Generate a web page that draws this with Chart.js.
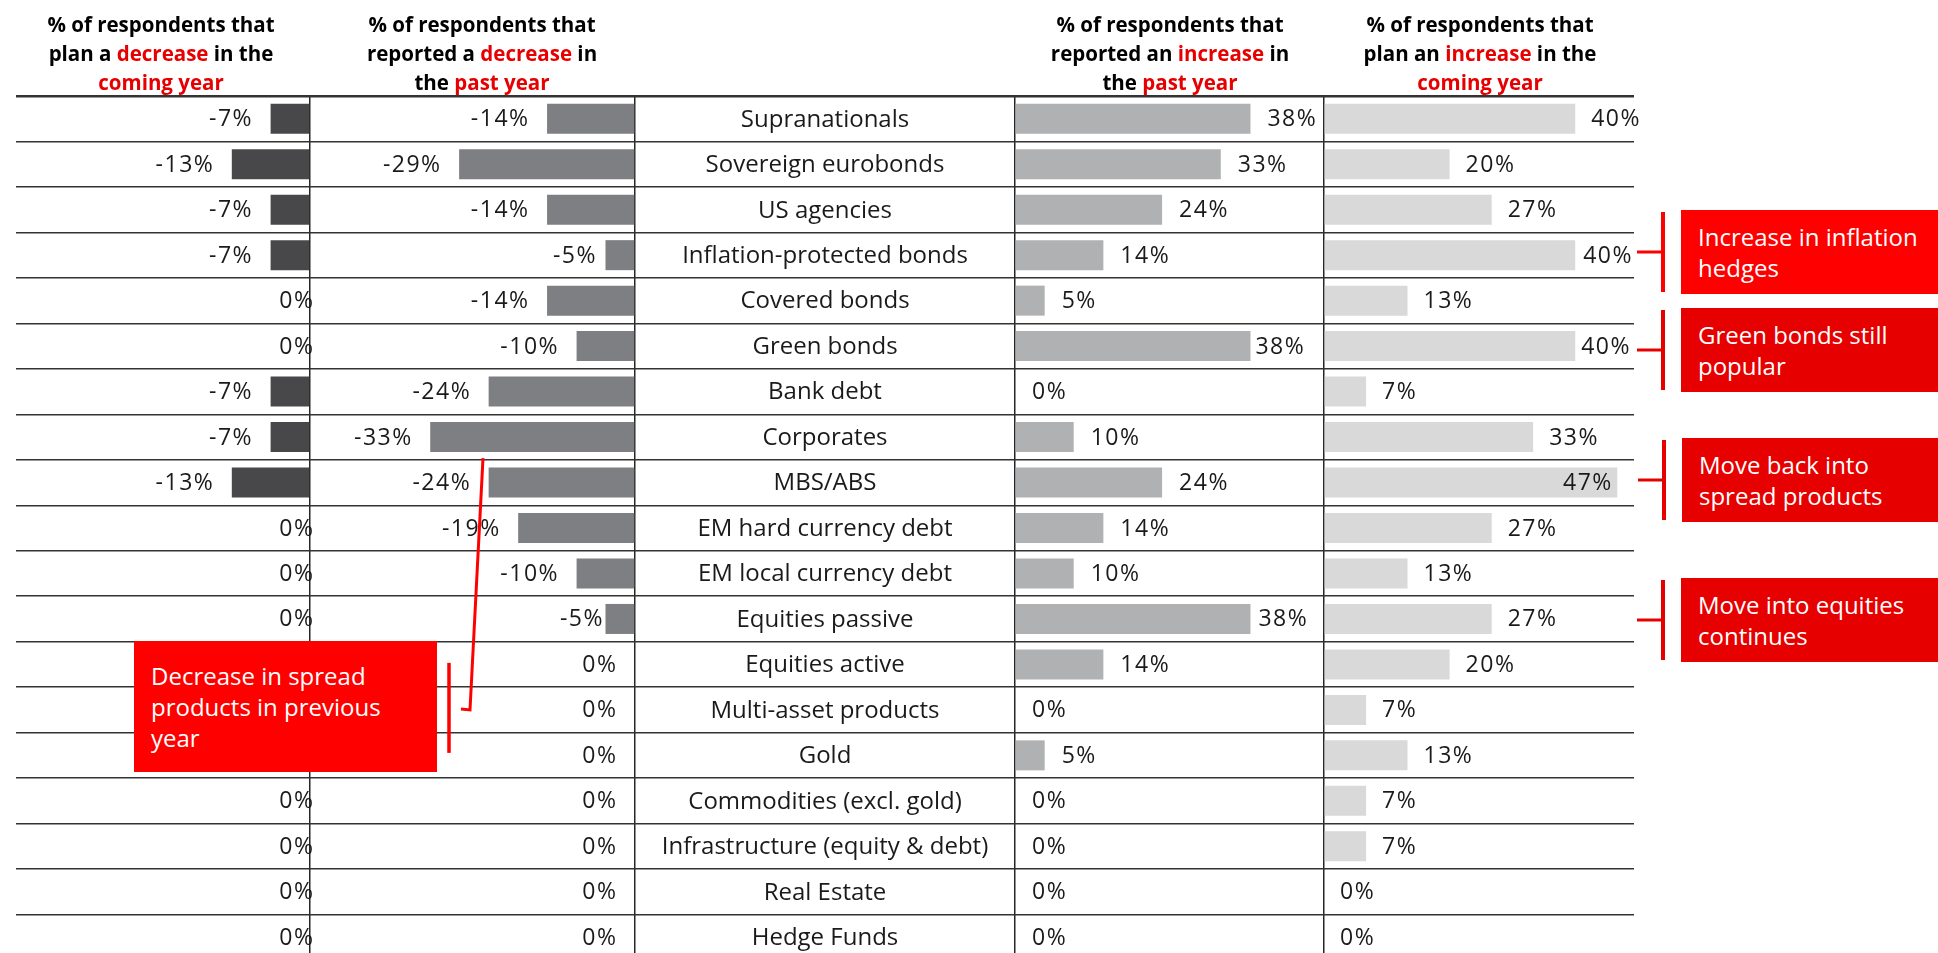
<!DOCTYPE html>
<html>
<head>
<meta charset="utf-8">
<title>Fixed income allocation changes</title>
<script src="https://cdn.jsdelivr.net/npm/chart.js@4.4.0/dist/chart.umd.min.js"></script>
<style>
  html, body { margin: 0; padding: 0; width: 1938px; height: 953px; overflow: hidden; background: #fff; }
  #wrap { position: absolute; left: 0; top: 0; width: 1938px; height: 960px; }
  .head { position: absolute; top: 10px; width: 340px; text-align: center; color: #000;
          font: bold 20.5px/29px "Open Sans", sans-serif; }
  .r { color: #e60000; }
  .note { position: absolute; box-sizing: border-box; padding-left: 17px; color: #fff;
          display: flex; align-items: center; font: 400 24px/31px "Open Sans", sans-serif; }
</style>
</head>
<body>
<div id="wrap"><canvas id="chart"></canvas></div>

<div class="head" style="left:-9px">% of respondents that<br>plan a <span class="r">decrease</span> in the<br><span class="r">coming year</span></div>
<div class="head" style="left:312px">% of respondents that<br>reported a <span class="r">decrease</span> in<br>the <span class="r">past year</span></div>
<div class="head" style="left:1000px">% of respondents that<br>reported an <span class="r">increase</span> in<br>the <span class="r">past year</span></div>
<div class="head" style="left:1310px">% of respondents that<br>plan an <span class="r">increase</span> in the<br><span class="r">coming year</span></div>

<script>
// asset classes, top to bottom
var categories = ['Supranationals', 'Sovereign eurobonds', 'US agencies', 'Inflation-protected bonds',
  'Covered bonds', 'Green bonds', 'Bank debt', 'Corporates', 'MBS/ABS', 'EM hard currency debt',
  'EM local currency debt', 'Equities passive', 'Equities active', 'Multi-asset products', 'Gold',
  'Commodities (excl. gold)', 'Infrastructure (equity & debt)', 'Real Estate', 'Hedge Funds'];

// % of respondents (labels are rounded)
var planDecrease = [-6.7, -13.3, -6.7, -6.7, 0, 0, -6.7, -6.7, -13.3, 0, 0, 0, 0, 0, 0, 0, 0, 0, 0];
var pastDecrease = [-14.3, -28.6, -14.3, -4.8, -14.3, -9.5, -23.8, -33.3, -23.8, -19.0, -9.5, -4.8, 0, 0, 0, 0, 0, 0, 0];
var pastIncrease = [38.1, 33.3, 23.8, 14.3, 4.8, 38.1, 0, 9.5, 23.8, 14.3, 9.5, 38.1, 14.3, 0, 4.8, 0, 0, 0, 0];
var planIncrease = [40, 20, 26.7, 40, 13.3, 40, 6.7, 33.3, 46.7, 26.7, 13.3, 26.7, 20, 6.7, 13.3, 6.7, 6.7, 0, 0];

// value label placement per column (gap from bar end, a few hand nudges like the original)
var labelRules = [
  { side: 'left', gap: 19, zeroShift: 3, nudge: {} },
  { side: 'left', gap: 19, nudge: { 3: 10, 11: 3 } },
  { side: 'right', gap: 17, nudge: { 5: 5, 11: 8 } },
  { side: 'right', gap: 16, nudge: { 3: 8, 5: 6, 8: -6 } }
];

// call-out boxes
var notes = [
  { lines: ['Increase in inflation', 'hedges'], x: 1681, top: 210, w: 257, h: 84, color: '#ff0000', bx: 1663, from: 1637 },
  { lines: ['Green bonds still', 'popular'], x: 1681, top: 308, w: 257, h: 84, color: '#e60000', bx: 1663, from: 1637 },
  { lines: ['Move back into', 'spread products'], x: 1682, top: 438, w: 256, h: 84, color: '#e60000', bx: 1664, from: 1638 },
  { lines: ['Move into equities', 'continues'], x: 1681, top: 578, w: 257, h: 84, color: '#e60000', bx: 1663, from: 1637 },
  { lines: ['Decrease in spread', 'products in previous', 'year'], x: 134, top: 641, w: 303, h: 131, color: '#ff0000' }
];

notes.forEach(function (n) {
  var d = document.createElement('div');
  d.className = 'note';
  d.style.left = n.x + 'px';
  d.style.top = n.top + 'px';
  d.style.width = n.w + 'px';
  d.style.height = n.h + 'px';
  d.style.background = n.color;
  d.innerHTML = '<div>' + n.lines.join('<br>') + '</div>';
  document.body.appendChild(d);
});

function pct(v) {
  return (v < 0 ? '-' : '') + Math.round(Math.abs(v)) + '%';
}

var cellPlugin = {
  id: 'cells',
  afterDatasetsDraw: function (chart) {
    var ctx = chart.ctx;
    var y = chart.scales.y;
    var mid = chart.scales.xl.getPixelForValue(0.5);
    ctx.save();
    ctx.fillStyle = '#1a1a1a';
    ctx.textBaseline = 'middle';
    ctx.font = '400 24px "Open Sans"';
    ctx.textAlign = 'center';
    categories.forEach(function (c, i) {
      ctx.fillText(c, mid, y.getPixelForValue(i) + 1);
    });

    ctx.font = '400 23px "Open Sans"';
    ctx.letterSpacing = '1.5px';
    chart.data.datasets.forEach(function (ds, di) {
      var rule = labelRules[di];
      chart.getDatasetMeta(di).data.forEach(function (bar, i) {
        var v = ds.data[i];
        var gap = rule.nudge[i] !== undefined ? rule.nudge[i] : rule.gap;
        var ty = bar.y + 1;
        if (rule.side === 'left') {
          ctx.textAlign = 'right';
          var tx = (v === 0 && rule.zeroShift !== undefined) ? bar.base + rule.zeroShift : bar.x - gap;
          ctx.fillText(pct(v), tx + 1.5, ty);
        } else if (gap < 0) {
          ctx.textAlign = 'right';
          ctx.fillText(pct(v), bar.x + gap + 1.5, ty);
        } else {
          ctx.textAlign = 'left';
          ctx.fillText(pct(v), bar.x + gap, ty);
        }
      });
    });
    ctx.restore();
  },
  afterDraw: function (chart) {
    var ctx = chart.ctx;
    var y = chart.scales.y;
    ctx.save();
    ctx.lineCap = 'butt';
    notes.forEach(function (n) {
      if (n.bx === undefined) return;
      var cy = n.top + n.h / 2;
      ctx.strokeStyle = n.color;
      ctx.lineWidth = 4;
      ctx.beginPath();
      ctx.moveTo(n.bx, n.top + 2);
      ctx.lineTo(n.bx, n.top + n.h - 2);
      ctx.stroke();
      ctx.lineWidth = 3;
      ctx.beginPath();
      ctx.moveTo(n.from, cy);
      ctx.lineTo(n.bx, cy);
      ctx.stroke();
    });
    // bracket and leader for the left call-out (Corporates -> box)
    var row13 = y.getPixelForValue(13);
    ctx.strokeStyle = '#ff0000';
    ctx.lineWidth = 3.5;
    ctx.beginPath();
    ctx.moveTo(449, row13 - 47);
    ctx.lineTo(449, row13 + 43);
    ctx.stroke();
    ctx.lineWidth = 3;
    ctx.beginPath();
    ctx.moveTo(483, y.getPixelForValue(7) + 21);
    ctx.lineTo(470, row13);
    ctx.lineTo(461, row13 - 1);
    ctx.stroke();
    ctx.restore();
  }
};

function colAxis(min, max, weight) {
  return {
    type: 'linear',
    min: min,
    max: max,
    stack: 'cols',
    stackWeight: weight,
    z: 1,
    ticks: { display: false },
    border: { display: false },
    grid: { drawTicks: false, color: '#262626', lineWidth: 1.5 },
    afterBuildTicks: function (s) { s.ticks = [{ value: 0 }]; }
  };
}

var labelAxis = colAxis(0, 1, 380);
labelAxis.grid = { display: false, drawTicks: false };

new Chart(document.getElementById('chart'), {
  type: 'bar',
  data: {
    labels: categories,
    datasets: [
      { data: planDecrease, xAxisID: 'x1', yAxisID: 'y', backgroundColor: '#48484a' },
      { data: pastDecrease, xAxisID: 'x2', yAxisID: 'y', backgroundColor: '#7e7f82' },
      { data: pastIncrease, xAxisID: 'x4', yAxisID: 'y', backgroundColor: '#b0b1b3' },
      { data: planIncrease, xAxisID: 'x5', yAxisID: 'y', backgroundColor: '#d9d9d9' }
    ]
  },
  options: {
    indexAxis: 'y',
    responsive: true,
    maintainAspectRatio: false,
    animation: false,
    layout: { padding: { left: 16, right: 304, top: 96, bottom: 0 } },
    datasets: { bar: { grouped: false, barPercentage: 0.66, categoryPercentage: 1 } },
    plugins: { legend: { display: false }, tooltip: { enabled: false } },
    scales: {
      x1: colAxis(-50, 0, 294),
      x2: colAxis(-52.85, 0, 325),
      xl: labelAxis,
      x4: colAxis(0, 50, 309),
      x5: colAxis(0, 49.36, 310),
      y: {
        type: 'category',
        ticks: { display: false },
        border: { display: false },
        grid: {
          offset: true,
          drawTicks: false,
          color: '#333',
          lineWidth: function (c) { return c.index === 0 ? 2.5 : 1.5; }
        }
      }
    }
  },
  plugins: [cellPlugin]
});
</script>
</body>
</html>
